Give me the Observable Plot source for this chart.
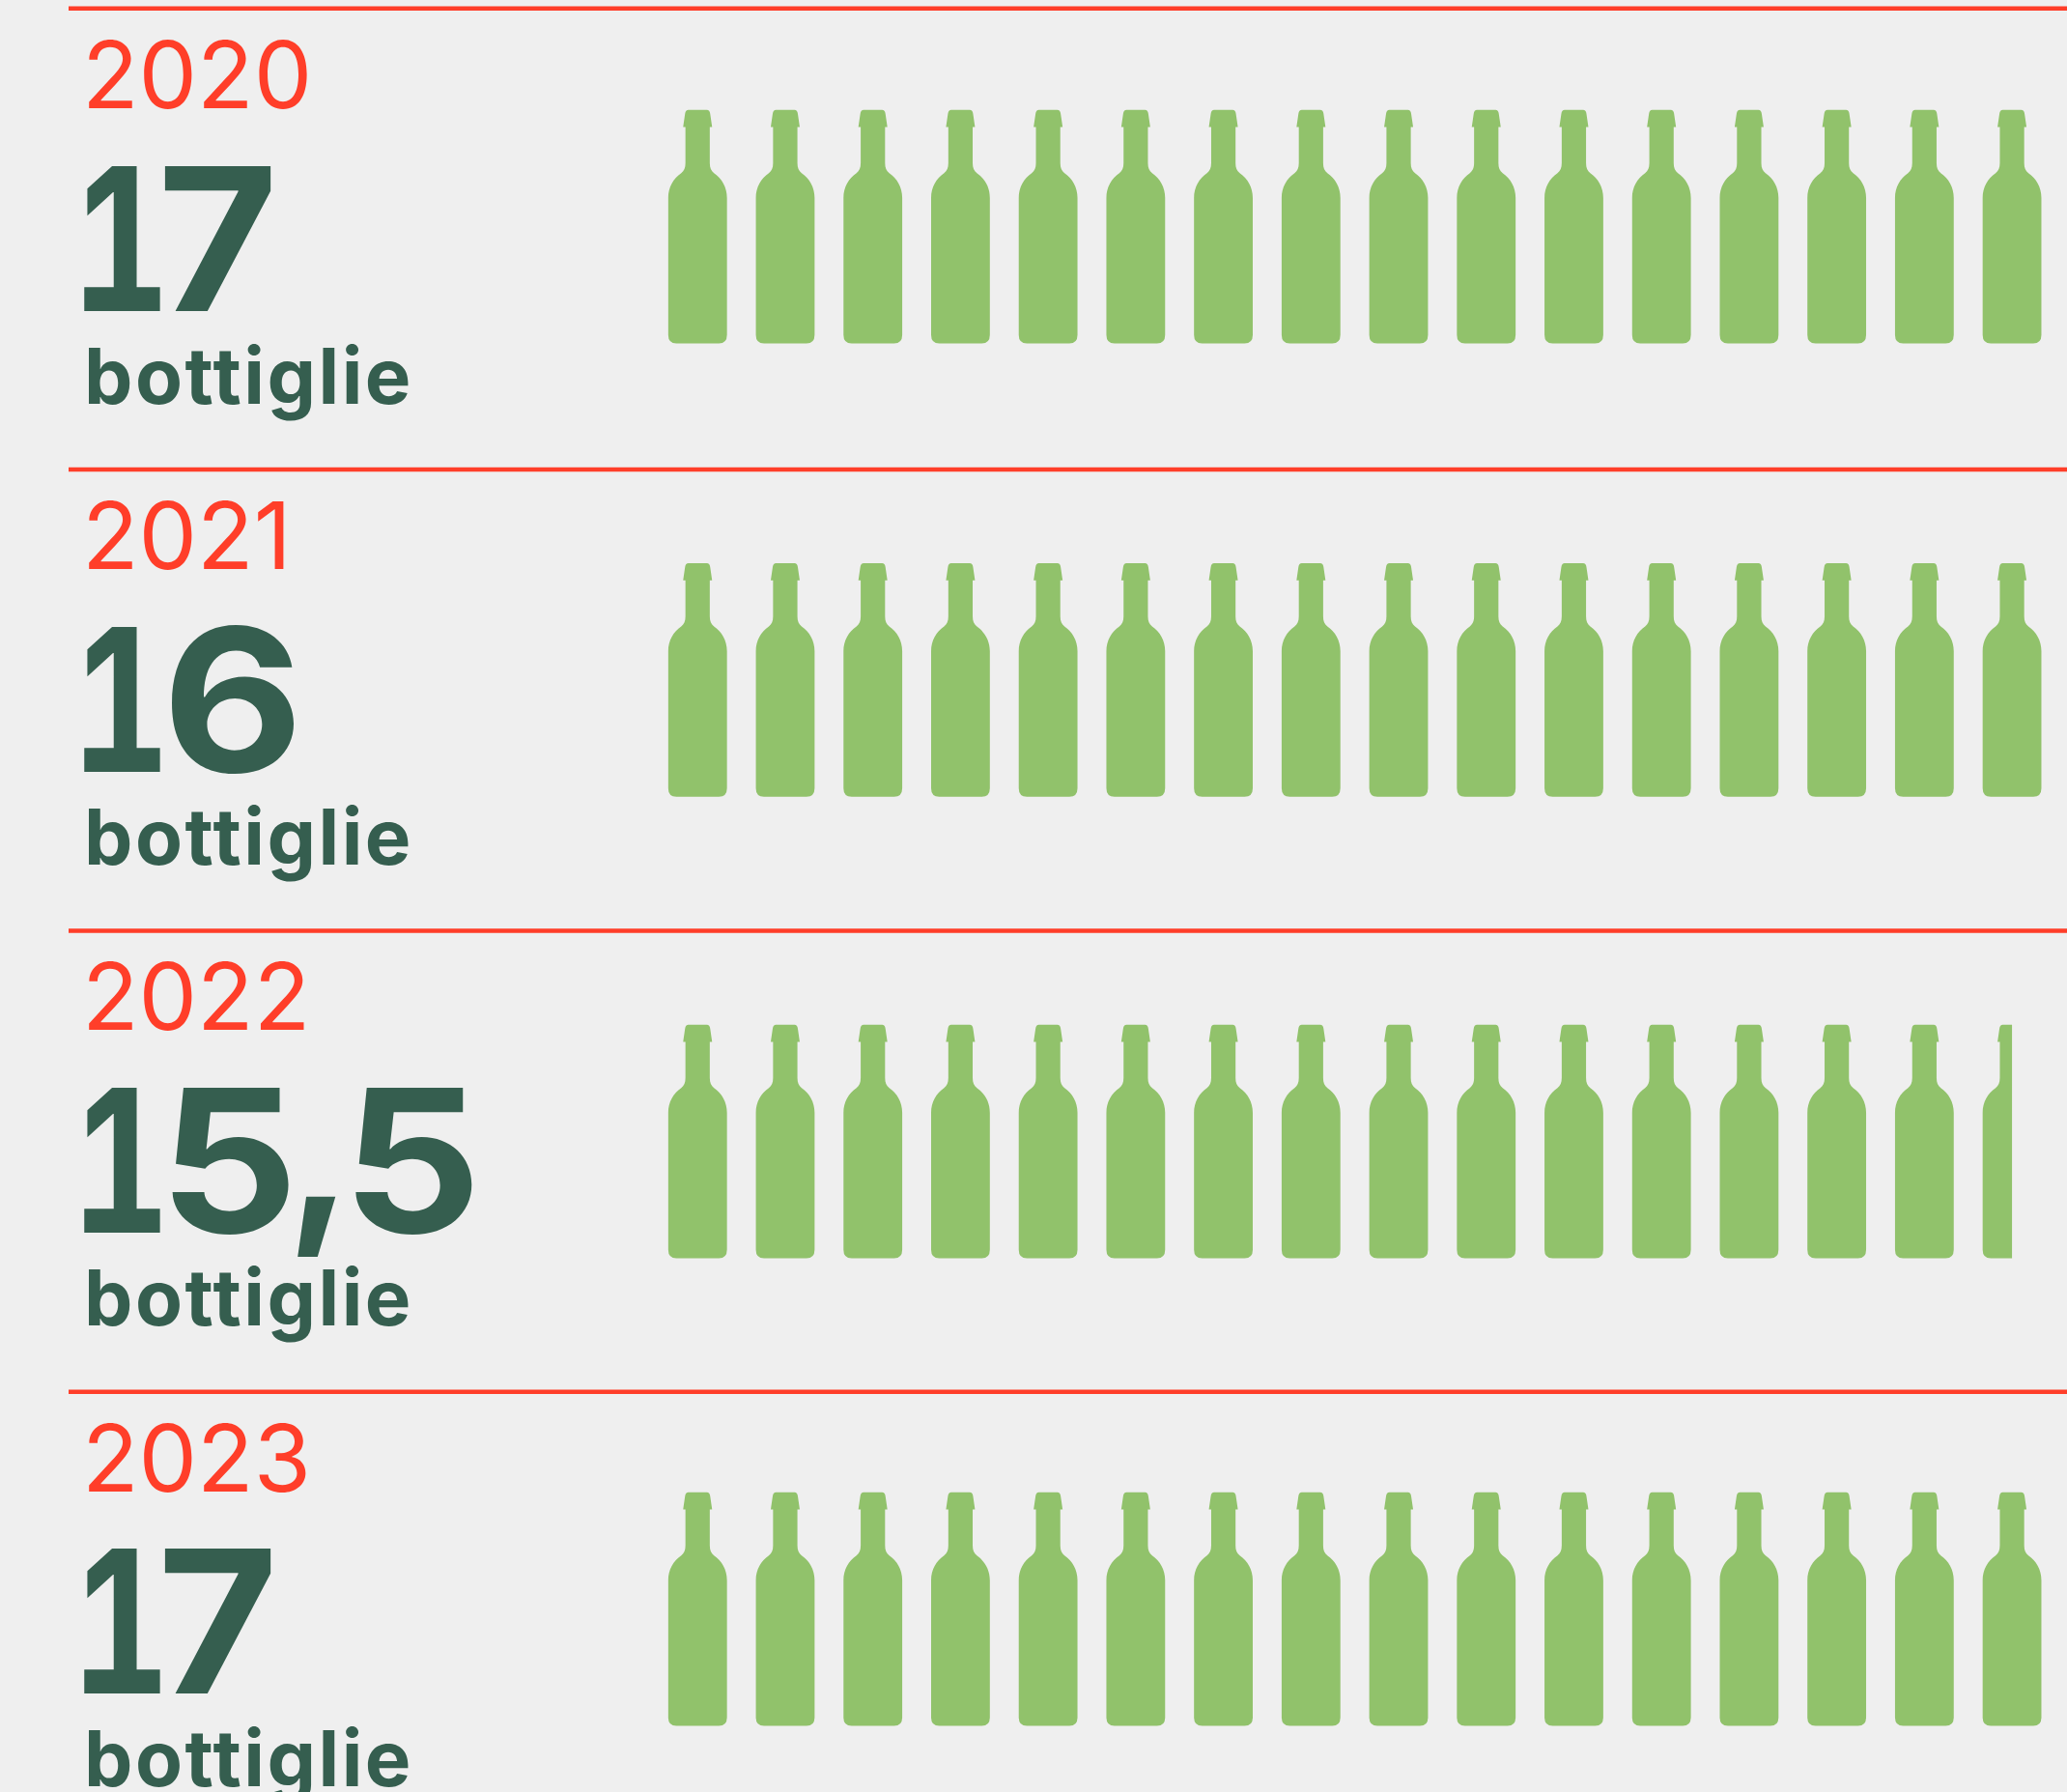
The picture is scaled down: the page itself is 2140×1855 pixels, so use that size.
<!DOCTYPE html>
<html><head><meta charset="utf-8">
<style>html,body{margin:0;padding:0;background:#efefef;overflow:hidden}</style>
<script src="https://cdn.jsdelivr.net/npm/d3@7"></script>
<script src="https://cdn.jsdelivr.net/npm/@observablehq/plot@0.6"></script>
</head><body><div id="chart"></div>
<script>
const years = [2020, 2021, 2022, 2023];
const bottles = [17, 16, 15.5, 17];
const valueLabels = ["17", "16", "15,5", "17"];
const unitLabel = "bottiglie";

const rows = years.map((year, i) => ({year, value: bottles[i], label: valueLabels[i]}));
const R = 120.85;
const leftSide = [["M",0,0],["L",-9.5,0],["Q",-12.5,0,-13,4],["L",-15,17.7],["L",-12.6,17.7],["L",-12.6,55],
    ["C",-12.6,60,-14,63,-17,65.5],["C",-25,71,-30.4,80,-30.4,91],["L",-30.4,233],["Q",-30.4,241.7,-22,241.7],["L",0,241.7]];
function bottleSymbol(half) {
  return {draw(ctx, size) {
    const k = Math.sqrt(size / Math.PI) / R, X = x => x * k, Y = y => (y - R) * k;
    for (const s of leftSide) {
      if (s[0]==="M") ctx.moveTo(X(s[1]),Y(s[2]));
      if (s[0]==="L") ctx.lineTo(X(s[1]),Y(s[2]));
      if (s[0]==="Q") ctx.quadraticCurveTo(X(s[1]),Y(s[2]),X(s[3]),Y(s[4]));
      if (s[0]==="C") ctx.bezierCurveTo(X(s[1]),Y(s[2]),X(s[3]),Y(s[4]),X(s[5]),Y(s[6]));
    }
    if (!half) {
      ctx.lineTo(X(22),Y(241.7)); ctx.quadraticCurveTo(X(30.4),Y(241.7),X(30.4),Y(233));
      ctx.lineTo(X(30.4),Y(91)); ctx.bezierCurveTo(X(30.4),Y(80),X(25),Y(71),X(17),Y(65.5));
      ctx.bezierCurveTo(X(14),Y(63),X(12.6),Y(60),X(12.6),Y(55)); ctx.lineTo(X(12.6),Y(17.7));
      ctx.lineTo(X(15),Y(17.7)); ctx.lineTo(X(13),Y(4)); ctx.quadraticCurveTo(X(12.5),Y(0),X(9.5),Y(0));
    }
    ctx.closePath();
  }};
}
const full = bottleSymbol(false), half = bottleSymbol(true);
const slots = rows.flatMap(r => d3.range(Math.ceil(r.value)).map(i => ({year:r.year, slot:i, partial: i+1 > r.value})));
const nudge = {2020:225.8, 2021:217.8, 2022:218.2, 2023:225};
const GREEN = "#91c26b", RED = "#ff3e29", DARK = "#355e4f", INTER = "Inter, sans-serif";
const bottleMarks = years.flatMap(y => [
  Plot.dot(slots.filter(d=>d.year===y && !d.partial),{x:"slot",y:"year",r:R,symbol:full,fill:GREEN,stroke:"none",dy:nudge[y]}),
  Plot.dot(slots.filter(d=>d.year===y && d.partial),{x:"slot",y:"year",r:R,symbol:half,fill:GREEN,stroke:"none",dy:nudge[y]})
]);
const chart = Plot.plot({
  width:2140, height:1855, marginLeft:71, marginRight:0, marginTop:0, marginBottom:0,
  style:{background:"#efefef"},
  x:{domain:[-7.173,15.633], range:[71,2140], axis:null},
  y:{domain:[2020,2023.869], range:[8.3,1855], axis:null},
  marks:[
    Plot.ruleY(years,{stroke:RED,strokeWidth:4.5}),
    ...bottleMarks,
    Plot.text(rows,{y:"year",text:d=>String(d.year),frameAnchor:"left",textAnchor:"start",lineAnchor:"bottom",dx:13.5,dy:103,fontSize:96,fontFamily:INTER,fontWeight:400,fill:RED}),
    Plot.text(rows,{y:"year",text:"label",frameAnchor:"left",textAnchor:"start",lineAnchor:"bottom",dx:2,dy:312.7,fontSize:206,fontFamily:INTER,fontWeight:700,fontVariant:"tabular-nums",fill:DARK,className:"num"}),
    Plot.text(rows,{y:"year",text:()=>unitLabel,frameAnchor:"left",textAnchor:"start",lineAnchor:"bottom",dx:15.5,dy:408.7,fontSize:80,fontFamily:INTER,fontWeight:700,fill:DARK,className:"unit"})
  ]
});
document.getElementById("chart").appendChild(chart);
// The reference's display face has a narrow footed "1" and wider figures: adjust glyph widths and gaps, keeping real text.
const afterOne = {"7":-20.5, "5":-11, "6":-8.5};
const glyphWidth = {"7":139, "5":146, "6":146};
d3.select(chart).selectAll(".num text").each(function(){
  const label = this.textContent, t = d3.select(this).text(null);
  Array.from(label).forEach((ch, i) => {
    const s = t.append("tspan").text(ch);
    if (i === 0) s.attr("textLength",103).attr("lengthAdjust","spacingAndGlyphs");
    else if (ch === ",") s.attr("dx",-9).attr("dy",-15);
    else {
      s.attr("textLength",glyphWidth[ch]).attr("lengthAdjust","spacingAndGlyphs");
      if (i === 1) s.attr("dx",afterOne[ch]);
      if (label[i-1] === ",") s.attr("dx",-2.5).attr("dy",15);
    }
  });
});
d3.select(chart).selectAll(".unit text").style("letter-spacing","2.5px");
</script></body></html>
